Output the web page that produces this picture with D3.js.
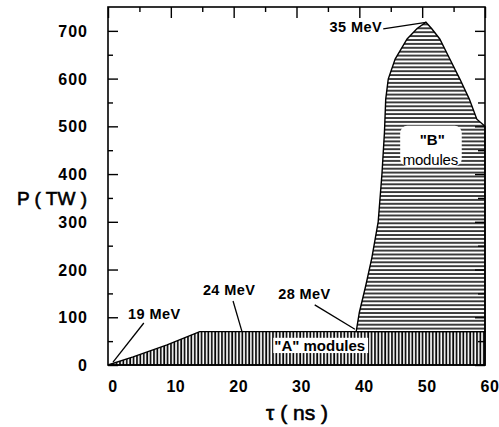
<!DOCTYPE html>
<html>
<head>
<meta charset="utf-8">
<script src="https://cdn.jsdelivr.net/npm/d3@7"></script>
<style>
  body { margin: 0; background: #fff; }
  text { font-family: "Liberation Sans", Arial, sans-serif; font-weight: bold; fill: #000; }
</style>
</head>
<body>
<div id="chart"></div>
<script>
// "A" modules pulse (tau in ns, P in TW)
const aTau = [0, 4, 9.4, 14.6, 60];
const aPower = [0, 17, 42, 70, 70];

// "B" modules pulse outline, sitting on top of A
const bTau = [39.5, 40, 41, 42, 43, 43.6, 44, 44.2, 44.6, 45.7, 47.6, 49.2, 50.6, 51.5, 52.8, 54.4, 56, 57.5, 58.7, 60, 60];
const bPower = [70, 110, 165, 225, 300, 400, 488, 557, 599, 641, 683, 705, 718, 705, 683, 641, 599, 557, 515, 500, 70];

const xTicks = [0, 10, 20, 30, 40, 50, 60];
const yTicks = [0, 100, 200, 300, 400, 500, 600, 700];

// energy annotations: text position and leader line (data coords)
const energyLabels = ["19 MeV", "24 MeV", "28 MeV", "35 MeV"];
const labelTau = [3.2, 15.1, 27.1, 43.6];
const labelP = [96, 147, 138, 698];
const labelAnchor = ["start", "start", "start", "end"];
const leaderFrom = [[5.7, 88], [19.9, 134], [32.9, 126], [43.8, 704]];
const leaderTo = [[0.8, 6], [21.3, 71], [39.3, 75], [50.6, 718]];

const width = 499;
const height = 427;
const margin = {top: 7, right: 14, bottom: 62, left: 108};

const svg = d3.select("#chart")
    .append("svg")
    .attr("width", width)
    .attr("height", height);

const x = d3.scaleLinear().domain([0, 60]).range([margin.left, width - margin.right]);
const y = d3.scaleLinear().domain([0, 750]).range([height - margin.bottom, margin.top]);

// hatch patterns
const defs = svg.append("defs");
defs.append("pattern")
    .attr("id", "vhatch")
    .attr("patternUnits", "userSpaceOnUse")
    .attr("width", 3.4).attr("height", 10)
    .append("line")
    .attr("x1", 1).attr("x2", 1).attr("y1", 0).attr("y2", 10)
    .attr("stroke", "#000").attr("stroke-width", 1.7);
defs.append("pattern")
    .attr("id", "hhatch")
    .attr("patternUnits", "userSpaceOnUse")
    .attr("width", 10).attr("height", 3.9)
    .append("line")
    .attr("x1", 0).attr("x2", 10).attr("y1", 1).attr("y2", 1)
    .attr("stroke", "#000").attr("stroke-width", 1.5);

// bottom ticks (mostly hidden under hatching)
svg.append("g")
    .attr("transform", `translate(0,${y(0)})`)
    .call(d3.axisTop(x).tickValues(d3.range(0, 61, 5)).tickSize(0).tickFormat(""))
    .call(g => g.select(".domain").remove());

const line = d3.line().x(d => x(d[0])).y(d => y(d[1]));

// A region
const aPts = aTau.map((t, i) => [t, aPower[i]]);
aPts.push([60, 0]);
svg.append("path")
    .attr("d", line(aPts) + "Z")
    .attr("fill", "url(#vhatch)")
    .attr("stroke", "#000")
    .attr("stroke-width", 1.4);

// B region
const bPts = bTau.map((t, i) => [t, bPower[i]]);
svg.append("path")
    .attr("d", line(bPts) + "Z")
    .attr("fill", "url(#hhatch)")
    .attr("stroke", "#000")
    .attr("stroke-width", 1.4);

// white label boxes
svg.append("rect")
    .attr("x", x(26.3)).attr("y", y(57))
    .attr("width", x(41.4) - x(26.3)).attr("height", y(25) - y(57))
    .attr("fill", "#fff");
svg.append("text")
    .attr("x", x(33.7)).attr("y", y(29))
    .attr("text-anchor", "middle")
    .style("font-size", "15px")
    .text("\"A\" modules");

svg.append("rect")
    .attr("x", x(46.5)).attr("y", y(501))
    .attr("width", x(56.3) - x(46.5)).attr("height", y(417) - y(501))
    .attr("rx", 7)
    .attr("fill", "#fff");
svg.append("text")
    .attr("x", x(51.6)).attr("y", y(461))
    .attr("text-anchor", "middle")
    .style("font-size", "15px")
    .text("\"B\"");
svg.append("text")
    .attr("x", x(51.3)).attr("y", y(419))
    .attr("text-anchor", "middle")
    .style("font-size", "15px")
    .style("font-weight", "normal")
    .style("letter-spacing", "-0.2px")
    .text("modules");

// frame
svg.append("rect")
    .attr("x", x(0)).attr("y", y(750))
    .attr("width", x(60) - x(0)).attr("height", y(0) - y(750))
    .attr("fill", "none")
    .attr("stroke", "#000")
    .attr("stroke-width", 1.6);

// inward ticks
function tickGroup(axis, transform) {
    svg.append("g")
        .attr("transform", transform)
        .call(axis)
        .call(g => g.select(".domain").remove())
        .call(g => g.selectAll("line").attr("stroke-width", 1.4));
}
const xMajor = d3.range(0, 61, 10);
const xMinor = d3.range(5, 60, 10);
const yMajor = yTicks;
const yMinor = d3.range(50, 750, 100);

tickGroup(d3.axisBottom(x).tickValues(xMajor).tickSize(11).tickFormat(""), `translate(0,${y(750)})`);
tickGroup(d3.axisBottom(x).tickValues(xMinor).tickSize(5).tickFormat(""), `translate(0,${y(750)})`);
tickGroup(d3.axisRight(y).tickValues(yMajor).tickSize(10).tickFormat(""), `translate(${x(0)},0)`);
tickGroup(d3.axisRight(y).tickValues(yMinor).tickSize(5).tickFormat(""), `translate(${x(0)},0)`);
tickGroup(d3.axisLeft(y).tickValues(yMajor).tickSize(10).tickFormat(""), `translate(${x(60)},0)`);
tickGroup(d3.axisLeft(y).tickValues(yMinor).tickSize(7).tickFormat(""), `translate(${x(60)},0)`);

// tick labels
svg.append("g")
    .selectAll("text")
    .data(yTicks)
    .enter()
    .append("text")
    .attr("x", 88)
    .attr("y", d => y(d) + 6)
    .attr("text-anchor", "end")
    .style("font-size", "16px")
    .style("letter-spacing", "1px")
    .text(d => d);

svg.append("g")
    .selectAll("text")
    .data(xTicks)
    .enter()
    .append("text")
    .attr("x", d => x(d) + 5)
    .attr("y", 392)
    .attr("text-anchor", "middle")
    .style("font-size", "16px")
    .style("letter-spacing", "0.5px")
    .text(d => d);

// axis titles
svg.append("text")
    .attr("x", 52).attr("y", 205)
    .attr("text-anchor", "middle")
    .style("font-size", "19px")
    .style("font-weight", "normal")
    .style("stroke", "#000").style("stroke-width", 0.6)
    .text("P ( TW )");

svg.append("text")
    .attr("x", 297).attr("y", 420)
    .attr("text-anchor", "middle")
    .style("font-size", "21px")
    .style("font-weight", "normal")
    .style("stroke", "#000").style("stroke-width", 0.6)
    .text("τ ( ns )");

// energy annotations
energyLabels.forEach((lab, i) => {
    svg.append("line")
        .attr("x1", x(leaderFrom[i][0])).attr("y1", y(leaderFrom[i][1]))
        .attr("x2", x(leaderTo[i][0])).attr("y2", y(leaderTo[i][1]))
        .attr("stroke", "#000")
        .attr("stroke-width", 1.3);
    svg.append("text")
        .attr("x", x(labelTau[i])).attr("y", y(labelP[i]))
        .attr("text-anchor", labelAnchor[i])
        .style("font-size", "14.5px")
        .style("letter-spacing", "0.4px")
        .text(lab);
});
</script>
</body>
</html>
